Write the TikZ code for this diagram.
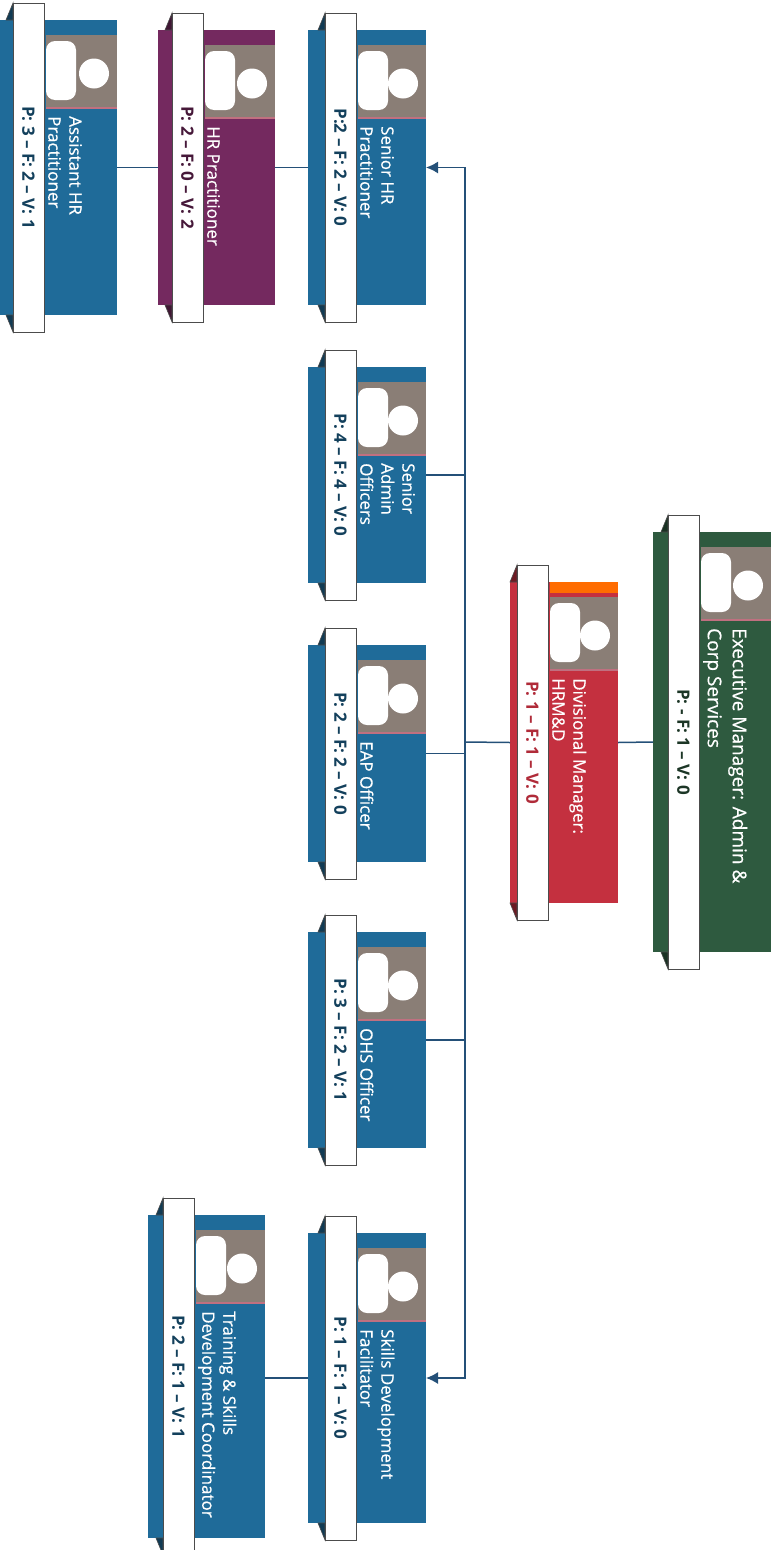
\documentclass[tikz,border=0pt]{standalone}
\usepackage{fontspec}
\setmainfont{Open Sans}
\newfontfamily\titlefam{Open Sans}[FakeBold=0.5]
\usetikzlibrary{arrows.meta}
\definecolor{cblue}{HTML}{1F6B99}
\definecolor{cgreen}{HTML}{2E5A3F}
\definecolor{cred}{HTML}{C4303F}
\definecolor{cpurple}{HTML}{74295F}
\definecolor{cphoto}{HTML}{8A7E76}
\definecolor{cconn}{HTML}{245078}
\definecolor{cpink}{HTML}{C07080}
\tikzset{
  conn/.style={draw=cconn, line width=1.5pt},
  arr/.style={-{Latex[length=12pt,width=12pt]}},
  cardtitle/.style={text=white, align=left, inner sep=0pt, anchor=south west, rotate=-90, font=\titlefam\cardfont},
  striptext/.style={inner sep=0pt, rotate=-90, font=\bfseries\fontsize{17}{20}\selectfont},
  stripbox/.style={draw=black!70, line width=0.8pt, fill=white},
}
\def\cardfont{\fontsize{17}{21}\selectfont}
\def\stripshade{60}
% #1 name, #2 xL, #3 xR, #4 yT, #5 yB, #6 strip offset, #7 colour, #8 title, #9 strip text
\newcommand\orgcard[9]{%
  \pgfmathsetmacro\sL{#2+#6}\pgfmathsetmacro\sR{#2+#6+31}%
  \pgfmathsetmacro\sT{#4-17}\pgfmathsetmacro\sB{#5+17}%
  \pgfmathsetmacro\pL{\sR+2}\pgfmathsetmacro\pT{#4+15}\pgfmathsetmacro\pB{#4+88}%
  \node[inner sep=0pt, outer sep=0pt, fill=#7, minimum width={(#3-#2)*1pt},
        minimum height={(#5-#4)*1pt}, anchor=north west] (#1) at (#2,#4) {};
  \fill[cphoto] (\pL,\pT) rectangle (#3,\pB);
  \draw[cpink, line width=1.5pt] (\pL,\pB) -- (#3,\pB);
  \fill[white, rounded corners=9pt] (\pL,{\pT+6}) rectangle ({\pL+30},{\pB-8});
  \fill[white] ({#3-23},{(\pT+\pB)/2+2}) circle[radius=15pt];
  \filldraw[fill=#7!55!black, draw=black!70, line width=0.6pt] (\sL,\sT) -- ({\sL-7},#4) -- (\sL,#4) -- cycle;
  \filldraw[fill=#7!55!black, draw=black!70, line width=0.6pt] (\sL,\sB) -- ({\sL-7},#5) -- (\sL,#5) -- cycle;
  \draw[stripbox] (\sL,\sT) rectangle (\sR,\sB);
  \node[cardtitle] at ({\sR+4},{\pB+8}) {#8};
  \node[striptext, text=#7!\stripshade!black] at ({(\sL+\sR)/2},{(\sT+\sB)/2}) {#9};
}
\begin{document}
\begin{tikzpicture}[x=1pt,y=-1pt]
\useasboundingbox[fill=white] (0,0) rectangle (778,1550);
\begingroup
\def\cardfont{\fontsize{19}{25}\selectfont}
\orgcard{exec}{653}{771}{532}{952}{15}{cgreen}{Executive Manager: Admin \&\\Corp Services}{P: - F: 1 -- V: 0}
\endgroup
\begingroup
\def\stripshade{90}
\orgcard{div}{510}{618}{582}{903}{7}{cred}{Divisional Manager:\\HRM\&D}{P: 1 -- F: 1 -- V: 0}
\endgroup
\fill[orange!85!red] (550,582) rectangle (618,593);
\orgcard{shr}{308}{426}{30}{305}{17}{cblue}{Senior HR\\Practitioner}{P:2 -- F: 2 -- V: 0}
\orgcard{sao}{308}{426}{367}{583}{17}{cblue}{Senior\\Admin\\Officers}{P: 4 -- F: 4 -- V: 0}
\orgcard{eap}{308}{426}{645}{862}{17}{cblue}{EAP Officer}{P: 2 -- F: 2 -- V: 0}
\orgcard{ohs}{308}{426}{932}{1148}{17}{cblue}{OHS Officer}{P: 3 -- F: 2 -- V: 1}
\orgcard{sdf}{308}{426}{1233}{1523}{17}{cblue}{Skills Development\\Facilitator}{P: 1 -- F: 1 -- V: 0}
\orgcard{tsc}{148}{265}{1215}{1538}{15}{cblue}{Training \& Skills\\Development Coordinator}{P: 2 -- F: 1 -- V: 1}
\orgcard{hrp}{158}{275}{30}{305}{14}{cpurple}{HR Practitioner}{P: 2 -- F: 0 -- V: 2}
\orgcard{ahr}{-1}{117}{20}{315}{14}{cblue}{Assistant HR\\Practitioner}{P: 3 -- F: 2 -- V: 1}
\coordinate (bus) at (465,742);
\draw[conn] (exec.west) -- (div.east);
\draw[conn] (div.west) -- (bus);
\draw[conn, arr] (bus) |- (shr.east);
\draw[conn, arr] (bus) |- (sdf.east);
\draw[conn] (sao.east) -- (sao.east -| bus);
\draw[conn] (eap.east) -- (eap.east -| bus);
\draw[conn] (ohs.east) -- (ohs.east -| bus);
\draw[conn] (shr.west) -- (hrp.east);
\draw[conn] (hrp.west) -- (ahr.east);
\draw[conn] (sdf.west) -- (sdf.west -| tsc.east);
\end{tikzpicture}
\end{document}
